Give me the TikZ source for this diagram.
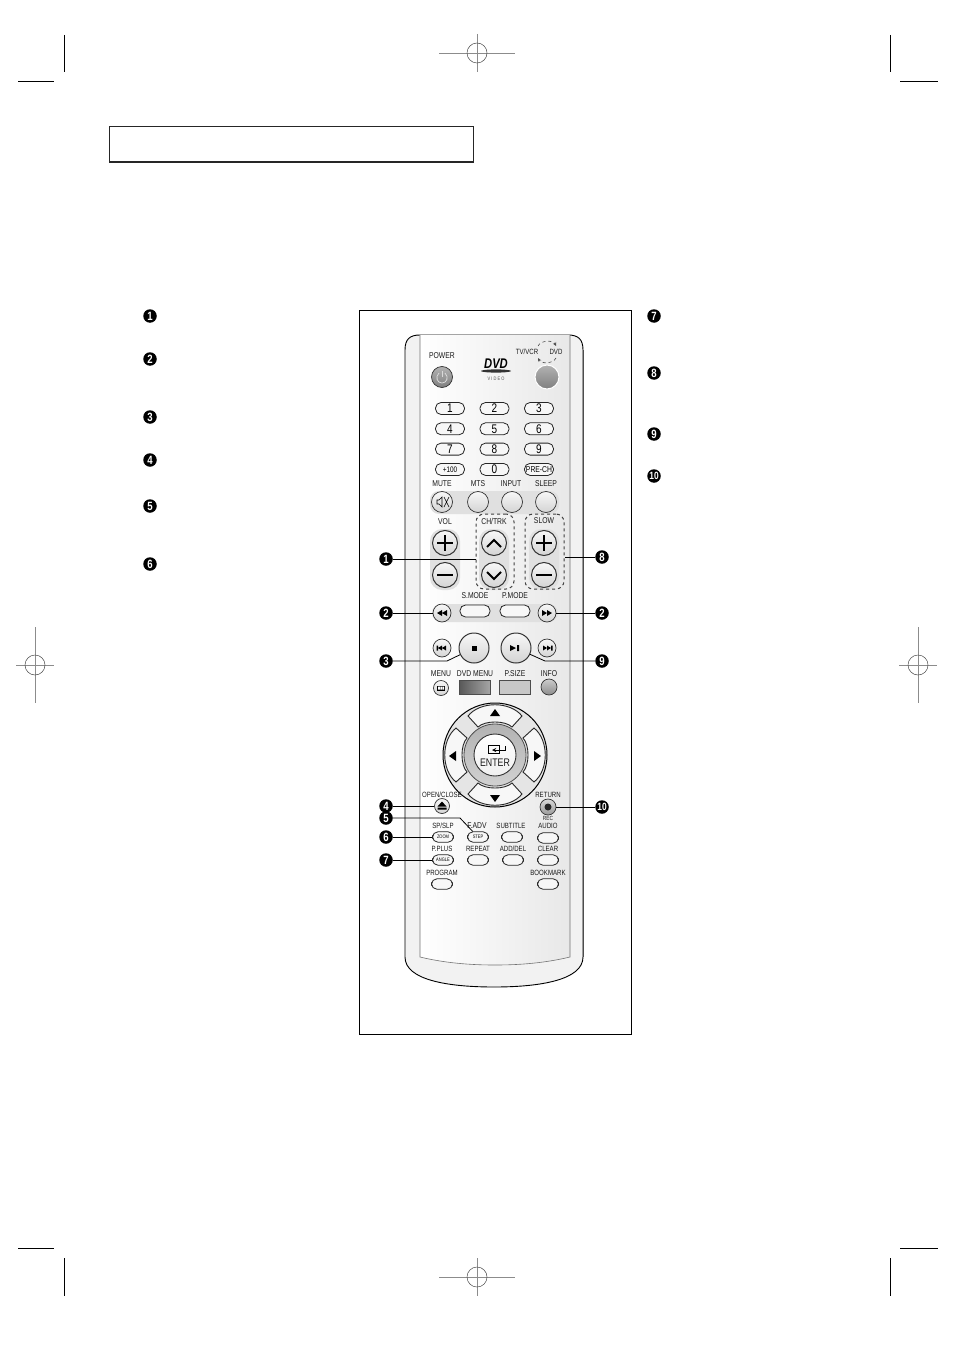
\documentclass[tikz,border=0pt]{standalone}
\usepackage{fontspec}
\setmainfont[FakeStretch=0.8]{Liberation Sans}
\usetikzlibrary{positioning,shapes.geometric}
\tikzset{
	badge/.style={circle, fill=black, text=white, inner sep=0pt, minimum size=13.5pt, font=\fontsize{12}{12}\bfseries},
	lbl/.style={inner sep=0pt, font=\fontsize{8.5}{9}\selectfont, text=black!90},
	lblsm/.style={lbl, font=\fontsize{7.6}{8}\selectfont},
	pill/.style={draw=black!85, rounded corners=5.5pt, fill=black!3, minimum width=29pt, minimum height=12pt, inner sep=0pt, line width=0.8pt},
	numkey/.style={pill, font=\fontsize{12.5}{12}\selectfont},
	softkey/.style={pill, minimum width=21pt, minimum height=10.5pt, font=\fontsize{5}{5}\selectfont},
	roundkey/.style={circle, draw=black!80, top color=black!3, bottom color=black!17, inner sep=0pt, line width=0.7pt},
	greykey/.style={roundkey, top color=black!30, bottom color=black!50},
	flatkey/.style={draw=black!70, inner sep=0pt, minimum width=31pt, minimum height=14pt},
	wedge/.style={draw=black!85, fill=black!3, line width=0.9pt},
	lead/.style={line width=0.8pt},
	crop/.style={line width=0.7pt, black},
	reg/.style={line width=0.7pt, black!45},
	dashbox/.style={draw=black!75, dashed, line width=1pt, rounded corners=8pt},
	band/.style={fill=black!12, rounded corners=9pt}
}
\begin{document}
\begin{tikzpicture}[x=1pt,y=-1pt,node distance=44.5pt]
	\useasboundingbox[fill=white] (0,0) rectangle (954,1348);

	% crop marks
	\draw[crop] (64,35) -- (64,72) (18,81) -- (54,81);
	\draw[crop] (890,35) -- (890,72) (900,81) -- (938,81);
	\draw[crop] (64,1258) -- (64,1296) (18,1248) -- (54,1248);
	\draw[crop] (890,1258) -- (890,1296) (900,1248) -- (938,1248);

	% registration marks
	\draw[reg] (439,53) -- (515,53) (477,34) -- (477,72);
	\draw[black!70, line width=0.5pt] (477,53) circle (10);
	\draw[reg] (477,1258) -- (477,1296) (439,1277) -- (515,1277);
	\draw[black!70, line width=0.5pt] (477,1277) circle (10);
	\draw[reg] (35,627) -- (35,703) (16,665) -- (54,665);
	\draw[black!70, line width=0.5pt] (35,665) circle (10);
	\draw[reg] (918,627) -- (918,703) (899,665) -- (937,665);
	\draw[black!70, line width=0.5pt] (918,665) circle (10);

	% title box and frame
	\draw[line width=0.8pt, black!85] (109.5,162) -- (109.5,126) -- (473,126) -- (473,162);
	\draw[line width=2pt, black!85] (109,162) -- (474,162);
	\draw[line width=0.8pt] (359.5,310) rectangle (631,1034);

	% remote body
	\draw[line width=0.9pt, fill=black!5] (405,350) .. controls (405,339) and (410,335) .. (420,335) -- (568,335)
		.. controls (578,335) and (583,339) .. (583,350) -- (583,957)
		.. controls (583,980) and (540,987) .. (494,987) .. controls (448,987) and (405,980) .. (405,957) -- cycle;
	\draw[line width=0.6pt, black!55, left color=white, right color=black!9] (420,335) -- (420,957) .. controls (445,963) and (470,965) .. (495,965)
		.. controls (520,965) and (545,963) .. (570,957) -- (570,335);
	\draw[line width=1.2pt, black!70] (583.5,350) -- (583.5,957);

	% grey bands
	\fill[band] (430,491) rectangle (559,514);
	\fill[band, rounded corners=12pt] (430,529) rectangle (460,590);
	\fill[band, rounded corners=12pt] (479,529) rectangle (509,590);
	\fill[band, rounded corners=12pt] (529,529) rectangle (559,590);
	\fill[band] (432,604) rectangle (558,622);

	% top keys
	\node[lbl] (power) at (442,356) {POWER};
	\node[greykey, minimum size=21pt] (pw) at (442,377) {};
	\draw[black!15, line width=0.8pt] (445,373) .. controls (449,377) and (447,383) .. (442,383) .. controls (437,383) and (435,377) .. (439,373);
	\draw[black!15, line width=0.8pt] (442,371) -- (442,377);
	\node[lblsm] (tvvcr) at (527,352) {TV/VCR};
	\node[lblsm] (dvd) at (556,352) {DVD};
	\draw[black!70, dashed, line width=0.6pt, ->, >=stealth] (538,346) .. controls (541,340) and (553,340) .. (556,346);
	\draw[black!70, dashed, line width=0.6pt, ->, >=stealth] (556,358) .. controls (553,364) and (541,364) .. (538,358);
	\node[greykey, minimum size=24pt, draw=white, line width=1pt] (tv) at (547,377) {};
	\node[inner sep=0pt, font=\fontsize{14}{14}\bfseries\itshape] (logo) at (496,364) {DVD};
	\fill[black!80] (496,371) ellipse (15 and 1.6);
	\node[inner sep=0pt, font=\fontsize{5}{5}\selectfont, text=black!70] (video) at (496,379) {V I D E O};

	% number pad
	\node[numkey] (n1) at (450,408.5) {1};
	\node[numkey] (n2)[right of = n1] {2};
	\node[numkey] (n3)[right of = n2] {3};
	\node[numkey] (n4)[below of = n1, node distance=20.3pt] {4};
	\node[numkey] (n5)[right of = n4] {5};
	\node[numkey] (n6)[right of = n5] {6};
	\node[numkey] (n7)[below of = n4, node distance=20.3pt] {7};
	\node[numkey] (n8)[right of = n7] {8};
	\node[numkey] (n9)[right of = n8] {9};
	\node[numkey, font=\fontsize{8}{8}\selectfont] (n100)[below of = n7, node distance=20.3pt] {+100};
	\node[numkey] (n0)[right of = n100] {0};
	\node[numkey, font=\fontsize{8.5}{8}\selectfont] (prech)[right of = n0] {PRE-CH};

	% mute row
	\node[lbl] (mute) at (442,484) {MUTE};
	\node[lbl] (mts) at (478,484) {MTS};
	\node[lbl] (input) at (511,484) {INPUT};
	\node[lbl] (sleep) at (546,484) {SLEEP};
	\node[roundkey, minimum size=21pt] (mk) at (442,502) {};
	\node[roundkey, minimum size=21pt] (mt) at (478,502) {};
	\node[roundkey, minimum size=21pt] (in) at (512,502) {};
	\node[roundkey, minimum size=21pt] (sl) at (546,502) {};
	\draw[line width=0.6pt] (437,500) -- (439,500) -- (442,497) -- (442,507) -- (439,504) -- (437,504) -- cycle;
	\draw[line width=0.6pt] (444,497) -- (449,507) (449,497) -- (444,507);

	% volume, channel, slow
	\node[lbl] (vol) at (445,522) {VOL};
	\node[lbl] (chtrk) at (494,521) {CH/TRK};
	\node[lbl] (slow) at (544,521) {SLOW};
	\node[roundkey, minimum size=25pt, line width=1pt] (vp) at (445,543) {};
	\node[roundkey, minimum size=25pt, line width=1pt] (vm) at (445,575) {};
	\node[roundkey, minimum size=25pt, line width=1pt] (cu) at (494,543) {};
	\node[roundkey, minimum size=25pt, line width=1pt] (cd) at (494,575) {};
	\node[roundkey, minimum size=25pt, line width=1pt] (sp) at (544,543) {};
	\node[roundkey, minimum size=25pt, line width=1pt] (sm) at (544,575) {};
	\draw[line width=2pt] (437,543) -- (453,543) (445,535) -- (445,551) (437,575) -- (453,575);
	\draw[line width=2pt] (536,543) -- (552,543) (544,535) -- (544,551) (536,575) -- (552,575);
	\draw[line width=1.8pt] (487,547) -- (494,540) -- (501,547) (487,572) -- (494,579) -- (501,572);
	\node[dashbox, minimum width=38pt, minimum height=75pt] (chbox) at (495,551.5) {};
	\node[dashbox, minimum width=39pt, minimum height=75pt] (slbox) at (544.5,551.5) {};

	% transport keys
	\node[lbl] (smode) at (475,596) {S.MODE};
	\node[lbl] (pmode) at (515,596) {P.MODE};
	\node[roundkey, minimum size=18pt] (rew) at (442,613) {};
	\node[pill, minimum width=30pt] (sm1) at (475,611) {};
	\node[pill, minimum width=30pt] (pm1) at (515,611) {};
	\node[roundkey, minimum size=18pt] (ff) at (547,613) {};
	\fill (437,613) -- (442,610) -- (442,616) -- cycle (442,613) -- (447,610) -- (447,616) -- cycle;
	\fill (552,613) -- (547,610) -- (547,616) -- cycle (547,613) -- (542,610) -- (542,616) -- cycle;
	\node[roundkey, minimum size=18pt] (prev) at (442,648) {};
	\node[roundkey, minimum size=30pt, line width=1pt] (stop) at (474,648) {};
	\node[roundkey, minimum size=30pt, line width=1pt] (play) at (516,648) {};
	\node[roundkey, minimum size=18pt] (next) at (547,648) {};
	\fill (436.5,645.5) rectangle (438,650.5) (438,648) -- (442,645.5) -- (442,650.5) -- cycle (442,648) -- (446,645.5) -- (446,650.5) -- cycle;
	\fill (552.5,645.5) rectangle (551,650.5) (551,648) -- (547,645.5) -- (547,650.5) -- cycle (547,648) -- (543,645.5) -- (543,650.5) -- cycle;
	\fill (471.5,645.5) rectangle (476.5,650.5);
	\fill (510,645) -- (516,648) -- (510,651) -- cycle (517,645) rectangle (519,651);

	% menu row
	\node[lbl] (menu) at (441,674) {MENU};
	\node[lbl] (dvdmenu) at (475,674) {DVD MENU};
	\node[lbl] (psize) at (515,674) {P.SIZE};
	\node[lbl] (info) at (549,674) {INFO};
	\node[roundkey, minimum size=15pt] (mn) at (441,688) {};
	\fill (437,685.5) rectangle (445,690.5);
	\fill[white] (438.2,686.5) rectangle (439.8,689.5) (440.4,686.5) rectangle (442,689.5) (442.6,686.5) rectangle (444,689.5);
	\node[flatkey, left color=black!65, right color=black!35] (dm) at (475,687) {};
	\node[flatkey, fill=black!22] (ps) at (515,687) {};
	\node[greykey, minimum size=16pt, top color=black!20, bottom color=black!45] (nf) at (549,687) {};

	% direction pad
	\node[circle, draw, line width=1pt, fill=black!10, minimum size=104pt, inner sep=0pt] (pad) at (495,755) {};
	\draw[wedge] (468,716) .. controls (480,701) and (510,701) .. (522,716) -- (512,727) .. controls (505,720.3) and (485,720.3) .. (478,727) -- cycle;
	\draw[wedge, rotate around={90:(495,755)}] (468,716) .. controls (480,701) and (510,701) .. (522,716) -- (512,727) .. controls (505,720.3) and (485,720.3) .. (478,727) -- cycle;
	\draw[wedge, rotate around={180:(495,755)}] (468,716) .. controls (480,701) and (510,701) .. (522,716) -- (512,727) .. controls (505,720.3) and (485,720.3) .. (478,727) -- cycle;
	\draw[wedge, rotate around={270:(495,755)}] (468,716) .. controls (480,701) and (510,701) .. (522,716) -- (512,727) .. controls (505,720.3) and (485,720.3) .. (478,727) -- cycle;
	\node[circle, draw=black!70, line width=0.8pt, top color=black!30, bottom color=black!18, minimum size=62pt, inner sep=0pt] (ring) at (495,755) {};
	\node[roundkey, minimum size=42pt, top color=white, bottom color=black!6, line width=0.9pt] (enter) at (495,755) {};
	\node[lbl, font=\fontsize{11}{11}\selectfont] (entxt) at (495,762.5) {ENTER};
	\draw[line width=0.9pt] (488,745) rectangle (499,753);
	\draw[line width=0.9pt, -stealth] (505,746) -- (505,750) -- (492,750);
	\fill (495,709) -- (490,716) -- (500,716) -- cycle;
	\fill (495,802) -- (490,795) -- (500,795) -- cycle;
	\fill (449,756) -- (456,751) -- (456,761) -- cycle;
	\fill (541,756) -- (534,751) -- (534,761) -- cycle;

	% lower keys
	\node[lblsm] (open) at (442,795) {OPEN/CLOSE};
	\node[roundkey, minimum size=15pt] (ej) at (442,806) {};
	\fill (442,801.5) -- (437.5,806.5) -- (446.5,806.5) -- cycle (437.5,807.5) rectangle (446.5,809.5);
	\node[lblsm] (ret) at (548,795) {RETURN};
	\node[roundkey, minimum size=16pt, top color=black!15, bottom color=black!40] (rt) at (548,807) {};
	\fill[black!85] (548,807) circle (3.5);
	\node[lbl, font=\fontsize{6}{6}\selectfont] (rec) at (548,818) {REC};

	\node[lblsm] (spslp) at (443,826) {SP/SLP};
	\node[lbl] (fadv) at (477,826) {F.ADV};
	\node[lblsm] (subt) at (511,826) {SUBTITLE};
	\node[lblsm] (audio) at (548,826) {AUDIO};
	\node[softkey] (zoom) at (443,837) {ZOOM};
	\node[softkey] (stepk) at (478,837) {STEP};
	\node[softkey] (subk) at (512,837) {};
	\node[softkey] (audk) at (548,838) {};

	\node[lblsm] (pplus) at (442,849) {P.PLUS};
	\node[lblsm] (rept) at (478,849) {REPEAT};
	\node[lblsm] (adddel) at (513,849) {ADD/DEL};
	\node[lblsm] (clear) at (548,849) {CLEAR};
	\node[softkey] (angle) at (443,860) {ANGLE};
	\node[softkey] (repk) at (478,860) {};
	\node[softkey] (addk) at (513,860) {};
	\node[softkey] (clrk) at (548,860) {};

	\node[lblsm] (prog) at (442,873) {PROGRAM};
	\node[lblsm] (book) at (548,873) {BOOKMARK};
	\node[softkey] (prk) at (442,884) {};
	\node[softkey] (bmk) at (548,884) {};

	% numbers in the text columns
	\node[badge] (l1) at (150,316) {1};
	\node[badge] (l2) at (150,359) {2};
	\node[badge] (l3) at (150,417) {3};
	\node[badge] (l4) at (150,460) {4};
	\node[badge] (l5) at (150,506) {5};
	\node[badge] (l6) at (150,564) {6};
	\node[badge] (r7) at (654,316) {7};
	\node[badge] (r8) at (654,373) {8};
	\node[badge] (r9) at (654,434) {9};
	\node[badge, font=\fontsize{10.5}{10}\bfseries] (r10) at (654,476) {10};

	% numbers round the remote
	\node[badge] (c1) at (386,559) {1};
	\node[badge] (c2) at (386,613) {2};
	\node[badge] (c3) at (386,661) {3};
	\node[badge] (c4) at (386,806) {4};
	\node[badge] (c5) at (386,818) {5};
	\node[badge] (c6) at (386,837) {6};
	\node[badge] (c7) at (386,860) {7};
	\node[badge] (d8) at (602,557) {8};
	\node[badge] (d2) at (602,613) {2};
	\node[badge] (d9) at (602,661) {9};
	\node[badge, font=\fontsize{10.5}{10}\bfseries] (d10) at (602,807) {10};

	\draw[lead] (c1) -- (chbox.west |- c1);
	\draw[lead] (c2) -- (rew);
	\draw[lead] (c3) -- (447,661) -- (stop);
	\draw[lead] (c4) -- (ej);
	\draw[lead] (c5) -- (460,818) -- (stepk);
	\draw[lead] (c6) -- (zoom);
	\draw[lead] (c7) -- (angle);
	\draw[lead] (d8) -- (slbox.east |- d8);
	\draw[lead] (d2) -- (ff);
	\draw[lead] (d9) -- (545,661) -- (play);
	\draw[lead] (d10) -- (rt);
\end{tikzpicture}
\end{document}
